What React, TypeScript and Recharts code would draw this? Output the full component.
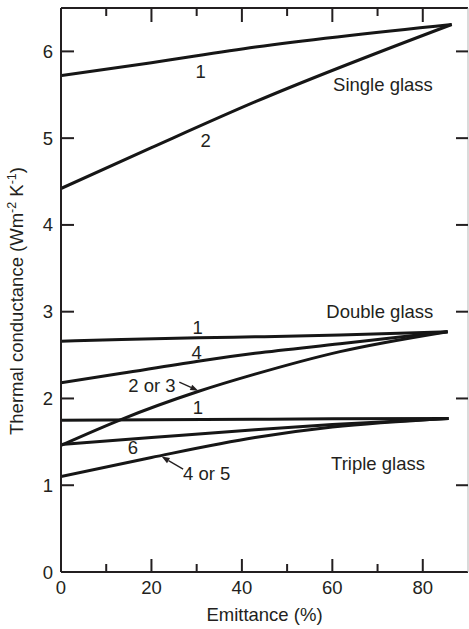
import { LineChart, Line, XAxis, YAxis, ReferenceDot } from 'recharts';

// emittance (%) sample points and conductance values
const singleX = [0, 20, 43, 86.4];
const single1 = [5.72, 5.87, 6.05, 6.31];
const single2 = [4.42, 4.89, 5.42, 6.31];

const doubleX = [0, 13.4, 30.3, 42.9, 61.7, 85.5];
const double1 = [2.66, 2.68, 2.70, 2.71, 2.73, 2.77];
const double4 = [2.18, 2.29, 2.43, 2.52, 2.63, 2.77];
const double23 = [1.46, 1.76, 2.08, 2.28, 2.54, 2.77];

const tripleX = [0, 20, 42.9, 60, 85.7];
const triple1 = [1.75, 1.755, 1.76, 1.765, 1.77];
const triple6 = [1.47, 1.55, 1.64, 1.7, 1.77];
const triple45 = [1.1, 1.32, 1.55, 1.67, 1.77];

const xTicks = [0, 10, 20, 30, 40, 50, 60, 70, 80];
const yTicks = [0, 1, 2, 3, 4, 5, 6];

// curve labels: [text, emittance, conductance]
const curveLabels: [string, number, number][] = [
  ['1', 30.9, 5.77],
  ['2', 32, 4.97],
  ['Single glass', 71.2, 5.62],
  ['Double glass', 70.5, 3.0],
  ['1', 30.2, 2.82],
  ['4', 30, 2.53],
  ['2 or 3', 20.1, 2.15],
  ['1', 30.3, 1.9],
  ['6', 15.9, 1.44],
  ['4 or 5', 32.2, 1.13],
  ['Triple glass', 70.1, 1.25],
];

// arrow tips: [emittance, conductance, tail dx, tail dy]
const arrows: [number, number, number, number][] = [
  [30.36, 2.09, -19, -8.5],
  [22.25, 1.33, 21.5, 12.5],
];

const toPoints = (xs: number[], ys: number[]) => xs.map((x, i) => ({ x, y: ys[i] }));

const ink = '#231f20';
const font = '"Liberation Sans", Arial, sans-serif';
const fs = 18.5;

const BottomTick = (props: any) => {
  const { x, y, payload } = props;
  const v = payload.value;
  const major = v % 20 === 0;
  return (
    <g>
      {v !== 0 && <line x1={x} x2={x} y1={y} y2={y - (major ? 13 : 8)} stroke={ink} strokeWidth={2} />}
      {major && (
        <text x={x} y={y + 22} textAnchor="middle" fontSize={fs} fontFamily={font} fill={ink}>
          {v}
        </text>
      )}
    </g>
  );
};

const TopTick = (props: any) => {
  const { x, y, payload } = props;
  const v = payload.value;
  if (v === 0) return <g />;
  const major = v % 20 === 0;
  return <line x1={x} x2={x} y1={y} y2={y + (major ? 14 : 8)} stroke={ink} strokeWidth={2} />;
};

const LeftTick = (props: any) => {
  const { x, y, payload } = props;
  const v = payload.value;
  return (
    <g>
      {v !== 0 && <line x1={x} x2={x + 13} y1={y} y2={y} stroke={ink} strokeWidth={2} />}
      <text x={x - 8} y={y + 6.5} textAnchor="end" fontSize={fs} fontFamily={font} fill={ink}>
        {v}
      </text>
    </g>
  );
};

const RightTick = (props: any) => {
  const { x, y, payload } = props;
  if (payload.value === 0) return <g />;
  return <line x1={x} x2={x - 12} y1={y} y2={y} stroke={ink} strokeWidth={2} />;
};

const TextMark = (text: string) => (p: any) => (
  <text x={p.cx} y={p.cy + 6.5} textAnchor="middle" fontSize={fs} fontFamily={font} fill={ink}>
    {text}
  </text>
);

const ArrowMark = (dx: number, dy: number) => (p: any) => {
  const len = Math.hypot(dx, dy);
  const ux = dx / len;
  const uy = dy / len;
  const bx = p.cx + ux * 8;
  const by = p.cy + uy * 8;
  const head = `M${p.cx},${p.cy} L${bx - uy * 3},${by + ux * 3} L${bx + uy * 3},${by - ux * 3} Z`;
  return (
    <g>
      <line x1={p.cx + dx} y1={p.cy + dy} x2={bx} y2={by} stroke={ink} strokeWidth={1.3} />
      <path d={head} fill={ink} />
    </g>
  );
};

const series = [
  toPoints(singleX, single1),
  toPoints(singleX, single2),
  toPoints(doubleX, double1),
  toPoints(doubleX, double4),
  toPoints(doubleX, double23),
  toPoints(tripleX, triple1),
  toPoints(tripleX, triple6),
  toPoints(tripleX, triple45),
];

export default function App() {
  return (
    <div style={{ position: 'absolute', left: 0, top: 0, background: '#fff' }}>
      <LineChart width={469} height={629} margin={{ top: 7, right: 0, left: 60, bottom: 56 }}>
        <XAxis
          xAxisId={0}
          type="number"
          dataKey="x"
          domain={[0, 90]}
          ticks={xTicks}
          interval={0}
          height={1}
          tickSize={0}
          tickMargin={0}
          tickLine={false}
          tick={<BottomTick />}
          axisLine={{ stroke: ink, strokeWidth: 2 }}
          allowDataOverflow
          label={{
            content: (p: any) => (
              <text
                x={p.viewBox.x + p.viewBox.width / 2}
                y={p.viewBox.y + 49}
                textAnchor="middle"
                fontSize={fs}
                fontFamily={font}
                fill={ink}
              >
                Emittance (%)
              </text>
            ),
          }}
        />
        <XAxis
          xAxisId="top"
          orientation="top"
          type="number"
          dataKey="x"
          domain={[0, 90]}
          ticks={xTicks}
          interval={0}
          height={1}
          tickSize={0}
          tickMargin={0}
          tickLine={false}
          tick={<TopTick />}
          axisLine={{ stroke: ink, strokeWidth: 2 }}
          allowDataOverflow
        />
        <YAxis
          yAxisId={0}
          type="number"
          domain={[0, 6.5]}
          ticks={yTicks}
          interval={0}
          width={1}
          tickSize={0}
          tickMargin={0}
          tickLine={false}
          tick={<LeftTick />}
          axisLine={{ stroke: ink, strokeWidth: 2 }}
          allowDataOverflow
          label={{
            content: () => (
              <text
                x={0}
                y={0}
                transform="translate(23 301) rotate(-90)"
                textAnchor="middle"
                fontSize={18.5}
                fontFamily={font}
                fill={ink}
              >
                Thermal conductance (Wm
                <tspan dy={-7} fontSize={12.5}>-2</tspan>
                <tspan dy={7}> K</tspan>
                <tspan dy={-7} fontSize={12.5}>-1</tspan>
                <tspan dy={7}>)</tspan>
              </text>
            ),
          }}
        />
        <YAxis
          yAxisId="right"
          orientation="right"
          type="number"
          domain={[0, 6.5]}
          ticks={yTicks}
          interval={0}
          width={1}
          tickSize={0}
          tickMargin={0}
          tickLine={false}
          tick={<RightTick />}
          axisLine={{ stroke: '#b5b5b5', strokeWidth: 1 }}
          allowDataOverflow
        />
        {series.map((d, i) => (
          <Line
            key={i}
            data={d}
            dataKey="y"
            type="monotone"
            stroke="#161616"
            strokeWidth={3}
            dot={false}
            activeDot={false}
            isAnimationActive={false}
          />
        ))}
        {curveLabels.map(([t, x, y], i) => (
          <ReferenceDot key={`l${i}`} x={x} y={y} r={0} shape={TextMark(t)} />
        ))}
        {arrows.map(([x, y, dx, dy], i) => (
          <ReferenceDot key={`a${i}`} x={x} y={y} r={0} shape={ArrowMark(dx, dy)} />
        ))}
      </LineChart>
    </div>
  );
}
